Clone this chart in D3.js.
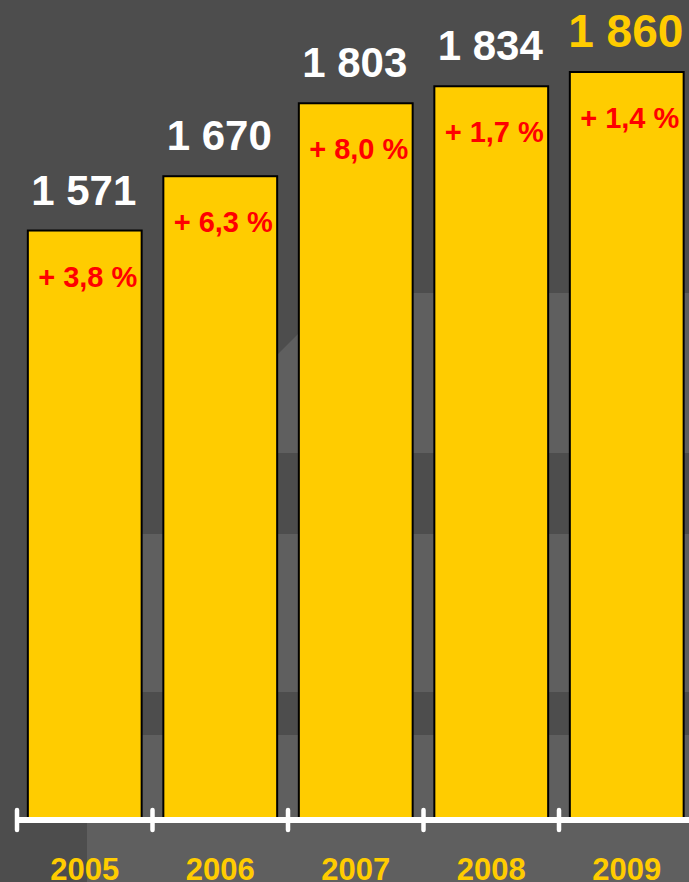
<!DOCTYPE html>
<html>
<head>
<meta charset="utf-8">
<title>Bar chart 2005-2009</title>
<script src="https://cdn.jsdelivr.net/npm/d3@7"></script>
<style>
  html, body { margin: 0; padding: 0; background: #4d4d4d; }
  svg { display: block; }
  text { font-family: "Liberation Sans", Arial, sans-serif; font-weight: bold; }
</style>
</head>
<body>
<script>

// Data
var years = ["2005", "2006", "2007", "2008", "2009"];
var values = [1571, 1670, 1803, 1834, 1860];
var changes = [3.8, 6.3, 8.0, 1.7, 1.4];

// Size of the page
var width = 689;
var height = 882;
var baseY = 818;

// Number formats with space as thousands and comma as decimal
var locale = d3.formatLocale({ decimal: ",", thousands: " ", grouping: [3], currency: ["", ""] });
var fmtValue = locale.format(",d");
var fmtChange = locale.format(".1f");

var svg = d3.select("body")
            .append("svg")
            .attr("width", width)
            .attr("height", height);

// Background with faded lighter shape
svg.append("rect")
    .attr("width", width).attr("height", height)
    .attr("fill", "#4d4d4d");

var light = "#5f5f5f";
svg.append("path")
    .attr("d", "M339,293 L689,293 L689,453 L220,453 L220,412 Z")
    .attr("fill", light);
svg.append("rect")
    .attr("x", 87).attr("y", 534)
    .attr("width", width - 87).attr("height", 692 - 534)
    .attr("fill", light);
svg.append("rect")
    .attr("x", 87).attr("y", 735)
    .attr("width", width - 87).attr("height", height - 735)
    .attr("fill", light);

// Scales
var xScale = d3.scaleBand()
               .domain(years)
               .range([17, 694.5])
               .paddingInner(0.16)
               .paddingOuter(0.08);

var yScale = d3.scaleLinear()
               .domain([500, 1860])
               .range([baseY, 72]);

// Bars
svg.selectAll("rect.bar")
    .data(values)
    .enter()
    .append("rect")
    .attr("class", "bar")
    .attr("x", function(d, i) { return xScale(years[i]); })
    .attr("y", function(d) { return yScale(d); })
    .attr("width", xScale.bandwidth())
    .attr("height", function(d) { return baseY - yScale(d); })
    .attr("fill", "#ffcc00")
    .attr("stroke", "#000")
    .attr("stroke-width", 2);

// Value labels above the bars
svg.selectAll("text.value")
    .data(values)
    .enter()
    .append("text")
    .attr("class", "value")
    .attr("x", function(d, i) { return xScale(years[i]) + xScale.bandwidth() / 2 - 1; })
    .attr("y", function(d, i) { return yScale(d) - (i == values.length - 1 ? 25 : 26); })
    .attr("text-anchor", "middle")
    .attr("font-size", function(d, i) { return i == values.length - 1 ? 46 : 42; })
    .attr("fill", function(d, i) { return i == values.length - 1 ? "#ffcc00" : "#ffffff"; })
    .text(function(d) { return fmtValue(d); });

// Growth labels inside the bars
svg.selectAll("text.change")
    .data(changes)
    .enter()
    .append("text")
    .attr("class", "change")
    .attr("x", function(d, i) { return xScale(years[i]) + xScale.bandwidth() / 2 + 3; })
    .attr("y", function(d, i) { return yScale(values[i]) + 56; })
    .attr("text-anchor", "middle")
    .attr("font-size", 29)
    .attr("fill", "#ff0000")
    .text(function(d) { return "+ " + fmtChange(d) + " %"; });

// X axis: white line with rounded ticks between the bars
var axis = svg.append("g").attr("class", "axis");
axis.append("line")
    .attr("x1", 17).attr("x2", width)
    .attr("y1", 820).attr("y2", 820)
    .attr("stroke", "#ffffff")
    .attr("stroke-width", 6);
axis.selectAll("line.tick")
    .data(years)
    .enter()
    .append("line")
    .attr("class", "tick")
    .attr("x1", function(d) { return xScale(d) - xScale.step() * 0.08; })
    .attr("x2", function(d) { return xScale(d) - xScale.step() * 0.08; })
    .attr("y1", 810).attr("y2", 830)
    .attr("stroke", "#ffffff")
    .attr("stroke-width", 4.5)
    .attr("stroke-linecap", "round");

// Year labels
svg.selectAll("text.year")
    .data(years)
    .enter()
    .append("text")
    .attr("class", "year")
    .attr("x", function(d) { return xScale(d) + xScale.bandwidth() / 2; })
    .attr("y", 880)
    .attr("text-anchor", "middle")
    .attr("font-size", 31)
    .attr("fill", "#ffcc00")
    .text(function(d) { return d; });

</script>
</body>
</html>
